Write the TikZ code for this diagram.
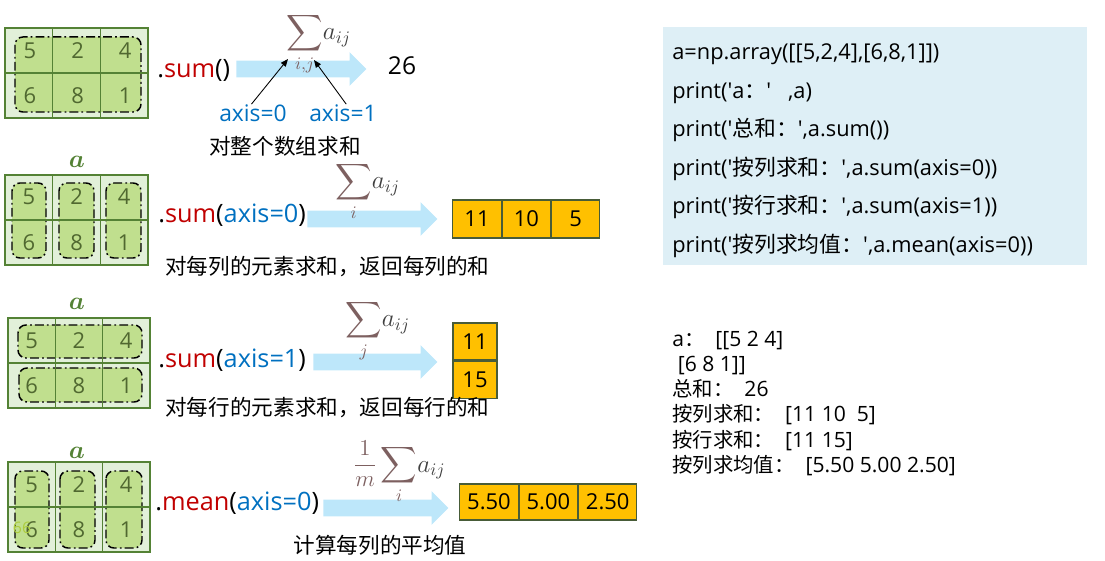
\documentclass[tikz,border=0pt]{standalone}
\usepackage{fontspec}
\usepackage{amsmath}
\usepackage{tikz}
\usetikzlibrary{arrows.meta,positioning,calc,shapes.arrows}
\setmainfont{Open Sans}
\newfontfamily\cjk{Noto Sans CJK SC}
\newcommand\zh[1]{{\cjk #1}}
\newcommand\zo[1]{{\cjk\fontsize{11.6}{13}\selectfont #1}}
\newcommand\qt{\textquotesingle}

\definecolor{matbg}{RGB}{226,240,217}
\definecolor{matline}{RGB}{84,130,53}
\definecolor{ingreen}{RGB}{192,223,142}
\definecolor{digitgreen}{RGB}{80,104,48}
\definecolor{gold}{RGB}{255,192,0}
\definecolor{goldline}{RGB}{72,92,56}
\definecolor{arrowblue}{RGB}{189,231,250}
\definecolor{codeblue}{RGB}{222,239,246}
\definecolor{opred}{RGB}{192,0,0}
\definecolor{axisblue}{RGB}{0,112,192}
\definecolor{sumbrown}{RGB}{125,96,96}
\definecolor{formgray}{RGB}{64,64,64}
\definecolor{oddgreen}{RGB}{172,204,60}

\begin{document}
\begin{tikzpicture}[
    x=0.2mm, y=-0.2mm,
    cell/.style={text=digitgreen, inner sep=0pt, font=\fontsize{12.5}{14}\selectfont},
    grp/.style={
        draw=black,
        fill=ingreen,
        line width=0.85pt,
        dash pattern=on 5pt off 1.8pt on 1pt off 1.8pt,
        rounded corners=4.5pt
    },
    gridline/.style={draw=matline, line width=0.6pt},
    op/.style={anchor=west, inner sep=0pt, font=\fontsize{14.4}{16}\selectfont},
    bigarrow/.style={
        single arrow,
        fill=arrowblue,
        draw=none,
        inner xsep=0pt,
        inner ysep=1.6mm,
        single arrow head extend=1.7mm,
        anchor=tail
    },
    outcell/.style={
        draw=goldline,
        fill=gold,
        line width=0.6pt,
        inner sep=0pt,
        font=\fontsize{12.5}{14}\selectfont
    },
    captxt/.style={inner sep=0pt, font=\cjk\fontsize{12.3}{14}\selectfont},
    lbl/.style={text=matline, inner sep=0pt, font=\fontsize{14}{16}\selectfont},
    formula/.style={text=formgray, inner sep=0pt, anchor=base west, font=\fontsize{14}{16}\selectfont},
    axl/.style={text=axisblue, inner sep=0pt, font=\fontsize{13}{15}\selectfont},
    thinarr/.style={-{Triangle[length=1.5mm,width=1.2mm]}, line width=0.5pt},
    code/.style={anchor=base west, inner sep=0pt, font=\fontsize{12.4}{14}\selectfont},
    outtxt/.style={anchor=base west, inner sep=0pt, font=\fontsize{12}{14}\selectfont}
]
\useasboundingbox (0,0) rectangle (1105,561);

% --- a.sum()
\fill[matbg] (5,28) rectangle (148,118);
\draw[grp] (15,37) rectangle (141,112);
\draw[gridline] (5,28) rectangle (148,118) (52.7,28) -- (52.7,118) (100.3,28) -- (100.3,118) (5,73) -- (148,73);
\foreach \u/\w [count=\k] in {5/6,2/8,4/1} {
    \node[cell] (m1t\k) at ({5+47.7*(\k-0.5)+1},51) {\u};
    \node[cell] (m1b\k) at ({5+47.7*(\k-0.5)+1},96) {\w};
}
\node[op] (op1) at (157,70) {.\textcolor{opred}{sum}()};
\node[bigarrow, minimum height=26mm] (ar1) at (236,69) {};
\node[font=\fontsize{14}{16}\selectfont] (r1) at (402,66) {26};
\node[formula] (f1) at (286,40) {$\displaystyle\textcolor{sumbrown}{\sum_{i,j}} a_{ij}$};
\coordinate (s0) at (288,59);
\coordinate (s1) at (314,60);
\node[axl] (ax0) at (253,113) {axis=0};
\node[axl] (ax1) at (343,113) {axis=1};
\draw[thinarr] (ax0.100) -- (s0);
\draw[thinarr] (ax1.70) -- (s1);
\node[captxt] (cap1) at (285,146) {对整个数组求和};

% --- a.sum(axis=0)
\node[lbl] (a2) at (77,162) {$\boldsymbol{a}$};
\fill[matbg] (5,175) rectangle (148,265);
\foreach \xa/\xb in {12/46,59/94,106/141}
    \draw[grp] (\xa,183) rectangle (\xb,258);
\draw[gridline] (5,175) rectangle (148,265) (52.7,175) -- (52.7,265) (100.3,175) -- (100.3,265) (5,220) -- (148,220);
\foreach \u/\w [count=\k] in {5/6,2/8,4/1} {
    \node[cell] (m2t\k) at ({5+47.7*(\k-0.5)},197) {\u};
    \node[cell] (m2b\k) at ({5+47.7*(\k-0.5)},243) {\w};
}
\node[op] (op2) at (158,215) {.\textcolor{opred}{sum}(\textcolor{axisblue}{axis=0})};
\node[bigarrow, minimum height=26mm] (ar2) at (307,219) {};
\node[formula] (f2) at (335,189) {$\displaystyle\textcolor{sumbrown}{\sum_{i}} a_{ij}$};
\node[outcell, minimum width=9.66mm, minimum height=7.6mm] (o21) at (477,219) {11};
\node[outcell, minimum width=9.66mm, minimum height=7.6mm, right=0pt of o21] (o22) {10};
\node[outcell, minimum width=9.66mm, minimum height=7.6mm, right=0pt of o22] (o23) {5};
\node[captxt, anchor=west] (cap2) at (165,267) {对每列的元素求和，返回每列的和};

% --- a.sum(axis=1)
\node[lbl] (a3) at (77,304) {$\boldsymbol{a}$};
\fill[matbg] (8,318) rectangle (150,408);
\draw[grp] (18,325) rectangle (142,358);
\draw[grp] (19,368) rectangle (142,402);
\draw[gridline] (8,318) rectangle (150,408) (55.3,318) -- (55.3,408) (102.7,318) -- (102.7,408) (8,363) -- (150,363);
\foreach \u/\w [count=\k] in {5/6,2/8,4/1} {
    \node[cell] (m3t\k) at ({8+47.3*(\k-0.5)},341) {\u};
    \node[cell] (m3b\k) at ({8+47.3*(\k-0.5)},386) {\w};
}
\node[op] (op3) at (158,360) {.\textcolor{opred}{sum}(\textcolor{axisblue}{axis=1})};
\node[bigarrow, minimum height=24.8mm] (ar3) at (313,362) {};
\node[formula] (f3) at (345,327) {$\displaystyle\textcolor{sumbrown}{\sum_{j}} a_{ij}$};
\node[outcell, minimum width=8.8mm, minimum height=7.4mm] (o31) at (475,341.5) {11};
\node[outcell, minimum width=8.8mm, minimum height=7.4mm, below=0pt of o31] (o32) {15};
\node[captxt, anchor=west] (cap3) at (165,408) {对每行的元素求和，返回每行的和};

% --- a.mean(axis=0)
\node[lbl] (a4) at (77,453) {$\boldsymbol{a}$};
\fill[matbg] (8,462) rectangle (150,552);
\foreach \xa/\xb in {15/49,60/95,106/142}
    \draw[grp] (\xa,471) rectangle (\xb,548);
\draw[gridline] (8,462) rectangle (150,552) (55.3,462) -- (55.3,552) (102.7,462) -- (102.7,552) (8,507) -- (150,507);
\foreach \u/\w [count=\k] in {5/6,2/8,4/1} {
    \node[cell] (m4t\k) at ({8+47.3*(\k-0.5)},485) {\u};
    \node[cell] (m4b\k) at ({8+47.3*(\k-0.5)},530) {\w};
}
\node[text=oddgreen, inner sep=0pt, font=\fontsize{9}{10}\selectfont] (odd) at (22,528) {66};
\node[op] (op4) at (155,503) {.\textcolor{opred}{mean}(\textcolor{axisblue}{axis=0})};
\node[bigarrow, minimum height=25mm] (ar4) at (323,508) {};
\node[formula] (f4) at (353,472) {$\textcolor{sumbrown}{\raisebox{0.1ex}{\scalebox{0.9}{$\displaystyle\frac{1}{m}$}}\displaystyle\sum_{i}} a_{ij}$};
\node[outcell, minimum width=11.66mm, minimum height=7.2mm] (o41) at (489,502) {5.50};
\node[outcell, minimum width=11.66mm, minimum height=7.2mm, right=0pt of o41] (o42) {5.00};
\node[outcell, minimum width=11.66mm, minimum height=7.2mm, right=0pt of o42] (o43) {2.50};
\node[captxt] (cap4) at (380,545) {计算每列的平均值};

% --- code and output
\node[fill=codeblue, minimum width=84.8mm, minimum height=47.6mm, anchor=north west, inner sep=0pt] (codebox) at (663,27) {};
\foreach \t [count=\k] in {
    {a=np.array([[5,2,4],[6,8,1]])},
    {print(\qt a\zh{：}\qt\ \ \ ,a)},
    {print(\qt\zh{总和：}\qt,a.sum())},
    {print(\qt\zh{按列求和：}\qt,a.sum(axis=0))},
    {print(\qt\zh{按行求和：}\qt,a.sum(axis=1))},
    {print(\qt\zh{按列求均值：}\qt,a.mean(axis=0))}}
    \node[code] (c\k) at (672,{60+38.5*(\k-1)}) {\t};
\foreach \t [count=\k] in {
    {a\zo{：}\ \ [[5 2 4]},
    {\ [6 8 1]]},
    {\zo{总和：}\ \ 26},
    {\zo{按列求和：}\ \ [11 10\ \ 5]},
    {\zo{按行求和：}\ \ [11 15]},
    {\zo{按列求均值：}\ \ [5.50 5.00 2.50]}}
    \node[outtxt] (t\k) at (672,{347+25*(\k-1)}) {\t};
\end{tikzpicture}
\end{document}
